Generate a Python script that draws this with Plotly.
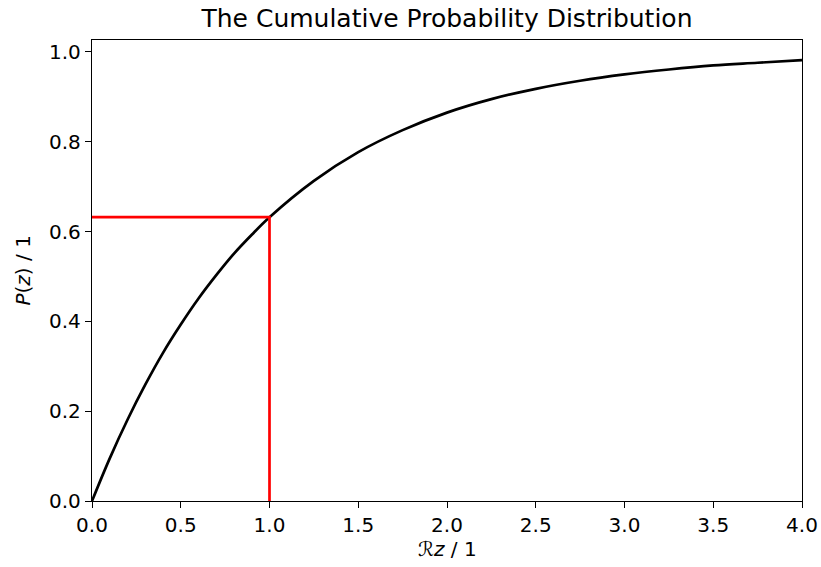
import plotly.graph_objects as go

# values
z_vals = [0.0, 0.1, 0.2, 0.3, 0.4, 0.5, 0.6, 0.7, 0.8, 0.9, 1.0, 1.25, 1.5, 1.75, 2.0,
          2.25, 2.5, 2.75, 3.0, 3.25, 3.5, 3.75, 4.0]
p_vals = [0.0, 0.095, 0.181, 0.259, 0.330, 0.393, 0.451, 0.503, 0.551, 0.593, 0.632,
          0.713, 0.777, 0.826, 0.865, 0.895, 0.918, 0.936, 0.950, 0.961, 0.970, 0.976, 0.982]
marker_x = [0.0, 1.0, 1.0]
marker_y = [0.632, 0.632, 0.0]
x_ticks = [0, 0.5, 1, 1.5, 2, 2.5, 3, 3.5, 4]
x_tick_labels = ["0.0", "0.5", "1.0", "1.5", "2.0", "2.5", "3.0", "3.5", "4.0"]
y_ticks = [0, 0.2, 0.4, 0.6, 0.8, 1.0]
y_tick_labels = ["0.0", "0.2", "0.4", "0.6", "0.8", "1.0"]

W, H = 821, 567
L, R, T, B = 92, 19, 40, 66

fig = go.Figure()
fig.add_trace(go.Scatter(x=z_vals, y=p_vals, mode="lines",
                         line=dict(color="black", width=2.7, shape="spline"),
                         showlegend=False, hoverinfo="skip"))
fig.add_trace(go.Scatter(x=marker_x, y=marker_y, mode="lines",
                         line=dict(color="red", width=2.7),
                         showlegend=False, hoverinfo="skip"))

font = dict(family="DejaVu Sans", size=20, color="black")
axis_common = dict(showgrid=False, zeroline=False, showline=True, linecolor="black", linewidth=1.4,
                   mirror=True, ticks="outside", ticklen=6, tickwidth=1.4, tickcolor="black",
                   tickfont=font, automargin=False)
fig.update_layout(
    width=W, height=H,
    margin=dict(l=L, r=R, t=T, b=B),
    plot_bgcolor="white", paper_bgcolor="white",
    font=font,
    title=dict(text="The Cumulative Probability Distribution", x=(L + (W - R)) / 2 / W, xanchor="center",
               y=1 - 18 / H, yanchor="middle", font=dict(family="DejaVu Sans", size=25, color="black")),
    xaxis=dict(range=[0, 4], tickvals=x_ticks, ticktext=x_tick_labels, **axis_common),
    yaxis=dict(range=[0, 1.0267], tickvals=y_ticks, ticktext=y_tick_labels, **axis_common),
    annotations=[
        dict(text="ℛ<i>z</i> / 1", xref="paper", yref="paper", x=0.5, y=-(549 - (H - B)) / (H - T - B),
             xanchor="center", yanchor="middle", showarrow=False, font=font),
        dict(text="<i>P</i>(<i>z</i>) / 1", xref="paper", yref="paper", x=-(L - 22) / (W - L - R),
             y=0.5, xanchor="center", yanchor="middle", textangle=-90, showarrow=False, font=font),
    ],
)
fig.write_html("out.html", config={"displayModeBar": False},
               post_script="document.body.style.margin='0';document.body.style.overflow='hidden';")
